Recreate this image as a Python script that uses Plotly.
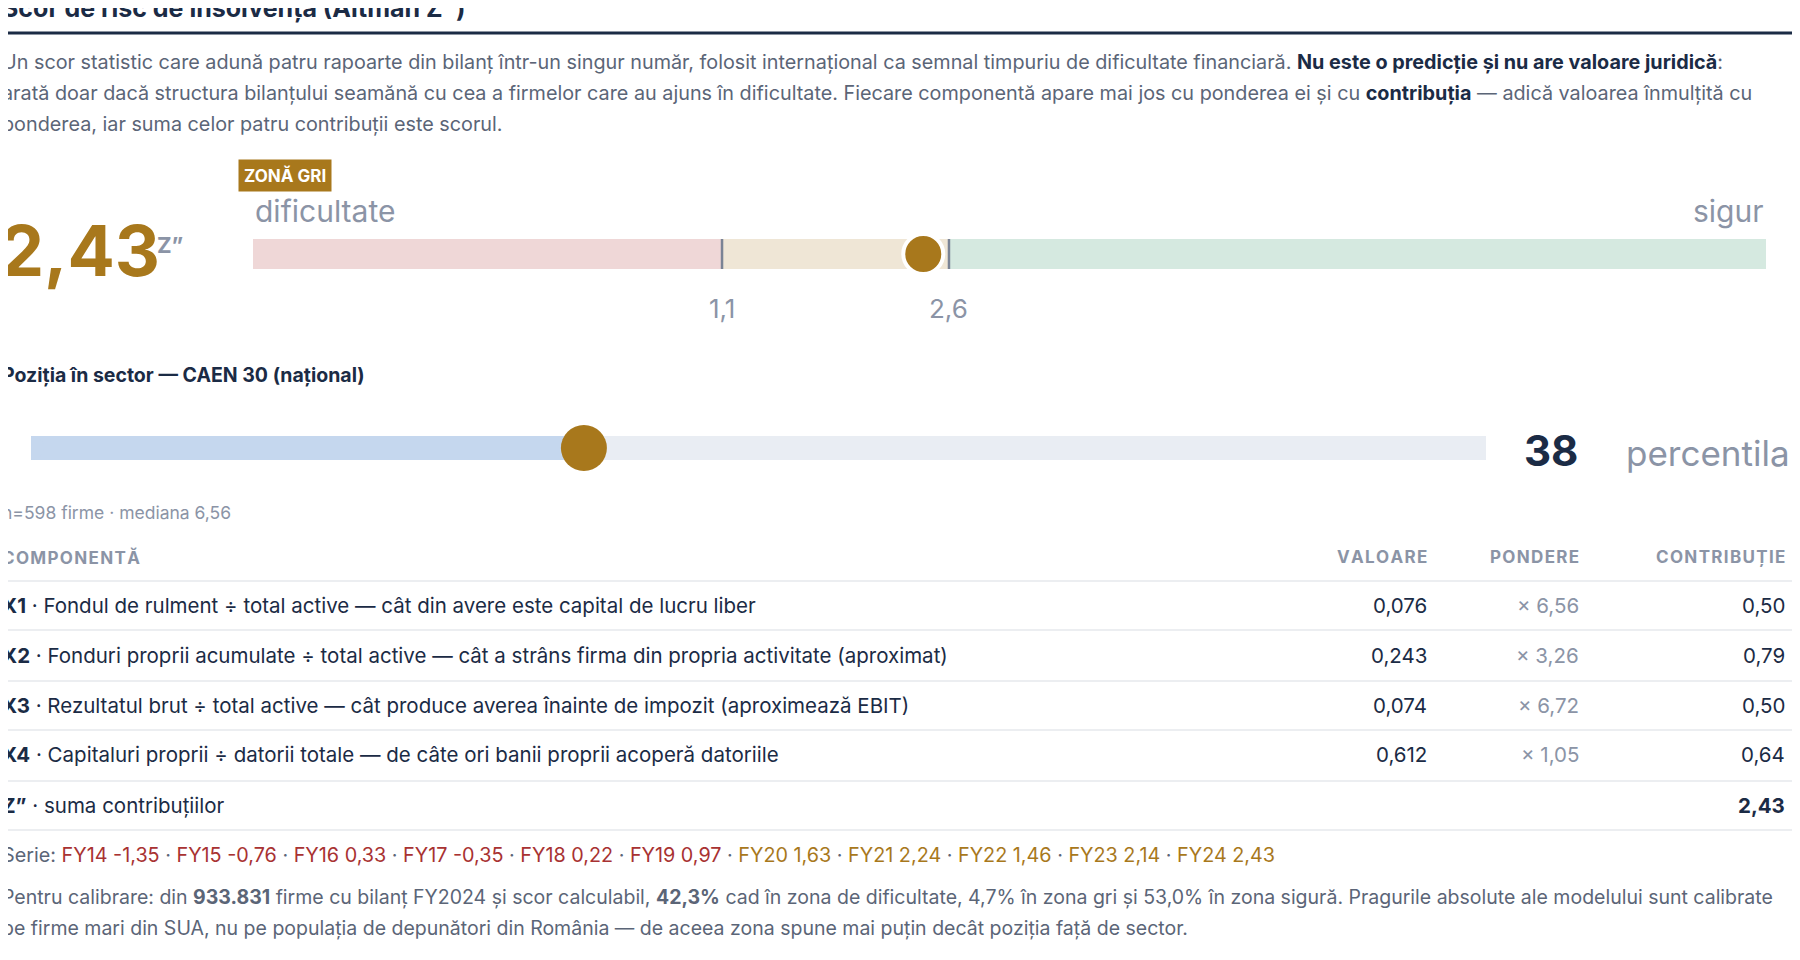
import plotly.graph_objects as go

W, H = 1800, 960
# ---- data ----
z_score = 2.43
z_label = "2,43"
thresholds = [1.1, 2.6]
threshold_labels = ["1,1", "2,6"]
z_range = [-2, 8]
zone_edges = [-2, 1.1, 2.6, 8]
percentile = 38
components = ["X1", "X2", "X3", "X4"]
comp_desc = [
    "Fondul de rulment ÷ total active — cât din avere este capital de lucru liber",
    "Fonduri proprii acumulate ÷ total active — cât a strâns firma din propria activitate (aproximat)",
    "Rezultatul brut ÷ total active — cât produce averea înainte de impozit (aproximează EBIT)",
    "Capitaluri proprii ÷ datorii totale — de câte ori banii proprii acoperă datoriile",
]
values = ["0,076", "0,243", "0,074", "0,612"]
weights = ["× 6,56", "× 3,26", "× 6,72", "× 1,05"]
contribs = ["0,50", "0,79", "0,50", "0,64"]
series_years = ["FY14", "FY15", "FY16", "FY17", "FY18", "FY19", "FY20", "FY21", "FY22", "FY23", "FY24"]
series_vals = ["-1,35", "-0,76", "0,33", "-0,35", "0,22", "0,97", "1,63", "2,24", "1,46", "2,14", "2,43"]
series_num = [-1.35, -0.76, 0.33, -0.35, 0.22, 0.97, 1.63, 2.24, 1.46, 2.14, 2.43]

NAVY = "#1b2b45"; GRAY = "#5b6577"; LGRAY = "#8b94a6"; GOLD = "#a8781c"; RED = "#a83232"
FONT = "Inter"
OFF = 8  # page body margin

def py(p):  # page pixel y -> paper
    return 1 - (p - OFF) / H
def px(p):
    return (p - OFF) / W

fig = go.Figure()
ann = []
shapes = []

def text(x, y, t, size=18, color=GRAY, anchor="left", **kw):
    ann.append(dict(x=px(x), y=py(y), xref="paper", yref="paper", text=t, showarrow=False,
                    xanchor=anchor, yanchor="middle", font=dict(family=FONT, size=size, color=color), **kw))

# title
text(0, 8, "<b>Scor de risc de insolvență (Altman Z”)</b>", 25, NAVY)
shapes.append(dict(type="line", xref="paper", yref="paper", x0=px(0), x1=1, y0=py(33), y1=py(33),
                   line=dict(color=NAVY, width=3)))
text(0, 62, "Un scor statistic care adună patru rapoarte din bilanț într-un singur număr, folosit internațional ca semnal timpuriu de dificultate financiară. <b style='color:#1b2b45'>Nu este o predicție și nu are valoare juridică</b>:", 19.8, GRAY)
text(0, 93, "arată doar dacă structura bilanțului seamănă cu cea a firmelor care au ajuns în dificultate. Fiecare componentă apare mai jos cu ponderea ei și cu <b style='color:#1b2b45'>contribuția</b> — adică valoarea înmulțită cu", 19.8, GRAY)
text(0, 124, "ponderea, iar suma celor patru contribuții este scorul.", 19.8, GRAY)

# gauge
zone_colors = ["#efd7d7", "#efe6d6", "#d5e9e0"]
for i in range(3):
    shapes.append(dict(type="rect", xref="x", yref="y", x0=zone_edges[i], x1=zone_edges[i+1], y0=0, y1=1,
                       fillcolor=zone_colors[i], line=dict(width=0), layer="below"))
for t in thresholds:
    shapes.append(dict(type="line", xref="x", yref="y", x0=t, x1=t, y0=-0.4, y1=1.4,
                       line=dict(color="#7a8395", width=2.5)))
fig.add_trace(go.Scatter(x=[z_score], y=[0.5], mode="markers", xaxis="x", yaxis="y",
                         marker=dict(size=40, color=GOLD, line=dict(color="white", width=4)),
                         cliponaxis=False, hoverinfo="skip", showlegend=False))
for t, lab in zip(thresholds, threshold_labels):
    ann.append(dict(x=t, y=py(309), xref="x", yref="paper", text=lab, showarrow=False, yanchor="middle",
                    font=dict(family=FONT, size=26, color=LGRAY)))
text(253, 211, "dificultate", 30, LGRAY)
text(1766, 211, "sigur", 30, LGRAY, anchor="right")
text(-2, 250, f"<b>{z_label}</b>", 70, GOLD)
text(155, 245, "<b>Z”</b>", 22, LGRAY)
ann.append(dict(x=px(285), y=py(175), xref="paper", yref="paper", text="<b>ZONĂ GRI</b>", showarrow=False,
                xanchor="center", yanchor="middle", bgcolor=GOLD, borderpad=5,
                font=dict(family=FONT, size=17, color="white")))

# percentile
text(0, 375, "<b>Poziția în sector — CAEN 30 (național)</b>", 19.5, NAVY)
shapes.append(dict(type="rect", xref="x2", yref="y2", x0=0, x1=percentile, y0=0, y1=1,
                   fillcolor="#c5d7ee", line=dict(width=0), layer="below"))
shapes.append(dict(type="rect", xref="x2", yref="y2", x0=percentile, x1=100, y0=0, y1=1,
                   fillcolor="#e9edf3", line=dict(width=0), layer="below"))
for xv, col in ((0, "#c5d7ee"), (100, "#e9edf3")):
    shapes.append(dict(type="circle", xref="x2", yref="y2", xsizemode="pixel", xanchor=xv,
                       x0=-13, x1=13, y0=0, y1=1, fillcolor=col, line=dict(width=0), layer="below"))
fig.add_trace(go.Scatter(x=[percentile], y=[0.5], mode="markers", xaxis="x2", yaxis="y2",
                         marker=dict(size=46, color=GOLD),
                         cliponaxis=False, hoverinfo="skip", showlegend=False))
text(1551, 450, f"<b>{percentile}</b>", 42, NAVY, anchor="center")
text(1624, 453, "percentila", 35, LGRAY)
text(0, 513, "n=598 firme · mediana 6,56", 17.5, LGRAY)

# table
hy = 557
text(0, hy, "<b>" + "\u200a".join("COMPONENTĂ") + "</b>", 17, LGRAY)
text(1429, hy, "<b>" + "\u200a".join("VALOARE") + "</b>", 17, LGRAY, anchor="right")
text(1581, hy, "<b>" + "\u200a".join("PONDERE") + "</b>", 17, LGRAY, anchor="right")
text(1787, hy, "<b>" + "\u200a".join("CONTRIBUȚIE") + "</b>", 17, LGRAY, anchor="right")
for yl in (581, 630, 681, 730, 781, 830):
    shapes.append(dict(type="line", xref="paper", yref="paper", x0=px(0), x1=1, y0=py(yl), y1=py(yl),
                       line=dict(color="#e6e8ec", width=1.5)))
rows_y = [605, 655, 705, 754]
for i, yy in enumerate(rows_y):
    text(0, yy, f"<b>{components[i]}</b> · {comp_desc[i]}", 20.5, NAVY)
    text(1429, yy, values[i], 20.5, NAVY, anchor="right")
    text(1581, yy, weights[i], 20.5, LGRAY, anchor="right")
    text(1787, yy, contribs[i], 20.5, NAVY, anchor="right")
text(0, 805, "<b>Z”</b> · suma contribuțiilor", 20.5, NAVY)
text(1787, 805, "<b>2,43</b>", 20.5, NAVY, anchor="right")

parts = []
for yr, v, n in zip(series_years, series_vals, series_num):
    col = RED if n < thresholds[0] else GOLD
    parts.append(f"<span style='color:{col}'>{yr} {v}</span>")
text(0, 855, "Serie: " + " · ".join(parts), 19.8, GRAY)
text(0, 897, "Pentru calibrare: din <b>933.831</b> firme cu bilanț FY2024 și scor calculabil, <b>42,3%</b> cad în zona de dificultate, 4,7% în zona gri și 53,0% în zona sigură. Pragurile absolute ale modelului sunt calibrate", 19.5, GRAY)
text(0, 928, "pe firme mari din SUA, nu pe populația de depunători din România — de aceea zona spune mai puțin decât poziția față de sector.", 19.5, GRAY)

ax = dict(showgrid=False, zeroline=False, showticklabels=False, ticks="", fixedrange=True)
fig.update_layout(
    width=W, height=H, margin=dict(l=0, r=0, t=0, b=0), paper_bgcolor="white", plot_bgcolor="rgba(0,0,0,0)",
    showlegend=False, annotations=ann, shapes=shapes,
    xaxis=dict(domain=[px(253), px(1766)], range=z_range, **ax),
    yaxis=dict(domain=[py(269), py(239)], range=[0, 1], **ax),
    xaxis2=dict(domain=[px(31), px(1486)], range=[0, 100], anchor="y2", **ax),
    yaxis2=dict(domain=[py(460), py(436)], range=[0, 1], anchor="x2", **ax),
)
fig.write_html("out.html", config={"displayModeBar": False})
